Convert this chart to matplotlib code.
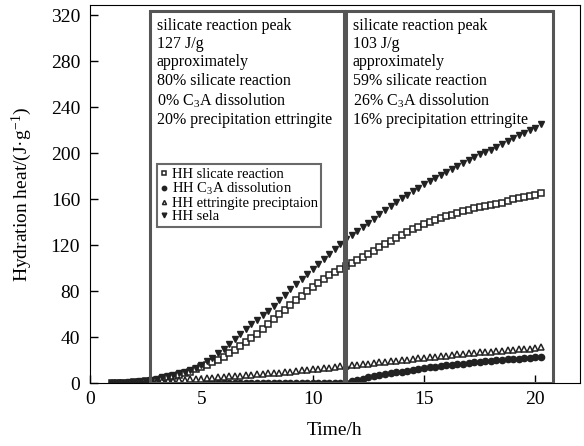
import numpy as np
import matplotlib
matplotlib.use("Agg")
import matplotlib.pyplot as plt
from matplotlib.patches import Rectangle

plt.rcParams["font.family"] = ["Liberation Serif", "DejaVu Serif"]
plt.rcParams["mathtext.fontset"] = "custom"
plt.rcParams["mathtext.rm"] = "Liberation Serif"
plt.rcParams["mathtext.it"] = "Liberation Serif:italic"

# time axis, h (every 0.25 h from 1 to 20.25)
t = np.arange(1.0, 20.26, 0.25)

silicate = [0, 0.1, 0.2, 0.4, 0.6, 1, 1.5, 2.2, 3, 4, 5, 6, 7, 8.5, 10, 12,
            14, 16, 18, 20.5, 23, 26, 29, 32.5, 36, 39.5, 43, 47, 51, 55.5, 60, 64,
            68, 72, 76, 80, 84, 87.5, 91, 94, 97, 99.5, 102, 104.5, 107, 109.5, 112, 115,
            118, 121, 124, 126.5, 129, 131.5, 134, 136, 138, 140, 142, 143.5, 145, 146.5,
            148, 149.5, 151, 152, 153, 154, 155, 156, 157, 158.5, 160, 161, 162, 163, 164, 165]

c3a = [0] * 42 + [0.5, 1.5, 3, 4, 5, 6, 7, 7.8, 8.5, 9.3, 10, 10.8, 11.5, 12.3,
                  13, 13.6, 14.2, 14.9, 15.5, 16, 16.5, 17, 17.5, 18, 18.5, 19, 19.5,
                  19.9, 20.2, 20.6, 21, 21.4, 21.8, 22.1, 22.5, 23]

ettringite = [0, 0.1, 0.2, 0.3, 0.5, 0.7, 1, 1.2, 1.5, 1.7, 2, 2.2, 2.5, 2.9, 3.2, 3.6,
              4, 4.4, 4.8, 5.1, 5.5, 5.9, 6.2, 6.6, 7, 7.4, 7.8, 8.1, 8.5, 8.9, 9.2, 9.6,
              10, 10.5, 11, 11.5, 12, 12.5, 13, 13.5, 14, 14.5, 15, 15.5, 16, 16.5, 17, 17.5,
              18, 18.5, 19, 19.5, 20, 20.5, 21, 21.5, 22, 22.5, 23, 23.5, 24, 24.5, 25, 25.5,
              26, 26.4, 26.8, 27.1, 27.5, 27.9, 28.2, 28.6, 29, 29.4, 29.8, 30.1, 30.5, 31]

sela = [0, 0.2, 0.4, 0.7, 1, 1.5, 2.2, 3, 4, 5, 6, 7, 8.5, 10, 11.5, 13.5,
        16, 19, 22, 26, 30, 34, 38.5, 42.5, 47, 51, 55, 59, 63, 67.5, 72, 77,
        82, 86.5, 91, 95, 99, 103.5, 108, 112.5, 117, 121, 125, 128.5, 132, 135.5, 139, 143,
        147, 150.5, 154, 157.5, 161, 164, 167, 170, 173, 175.5, 178, 181, 184, 186.5,
        189, 191.5, 194, 196.5, 199, 201, 203, 205.5, 208, 210.5, 213, 215.5, 218, 220, 222, 225]

boxes = [(2.7, 11.4), (11.5, 20.8)]
box_top = 324
box_texts = [
    "silicate reaction peak\n127 J/g\napproximately\n80% silicate reaction\n"
    "0% C$_3$A dissolution\n20% precipitation ettringite",
    "silicate reaction peak\n103 J/g\napproximately\n59% silicate reaction\n"
    "26% C$_3$A dissolution\n16% precipitation ettringite",
]

fig = plt.figure(figsize=(5.84, 4.46), dpi=100)
ax = fig.add_axes([0.154, 0.141, 0.839, 0.848])

ms = 4.2
ax.plot(t, silicate, ls="none", marker="s", ms=ms, mfc="white", mec="#222", mew=1.1,
        label="HH slicate reaction")
ax.plot(t, c3a, ls="none", marker="o", ms=ms + 0.3, color="#222", label="HH C$_3$A dissolution")
ax.plot(t, ettringite, ls="none", marker="^", ms=ms, mfc="white", mec="#222", mew=1.1,
        label="HH ettringite preciptaion")
ax.plot(t, sela, ls="none", marker="v", ms=ms + 0.6, color="#222", label="HH sela")

for (x0, x1), txt in zip(boxes, box_texts):
    ax.add_patch(Rectangle((x0, 0), x1 - x0, box_top, fill=False, ec="#555", lw=2.2, zorder=3))
    ax.text(x0 + 0.3, box_top - 6, txt, fontsize=11.5, va="top", ha="left", linespacing=1.2)

leg = ax.legend(loc="upper left", bbox_to_anchor=(0.137, 0.58), fontsize=10.5, frameon=True,
                fancybox=False, handlelength=0.5, handletextpad=0.25, labelspacing=0.0,
                borderpad=0.25, borderaxespad=0, markerscale=0.7)
leg.get_frame().set_edgecolor("#444")
leg.get_frame().set_linewidth(1.5)

ax.set_xlim(0, 22)
ax.set_ylim(0, 329)
ax.set_xticks([0, 5, 10, 15, 20])
ax.set_yticks(range(0, 321, 40))
ax.tick_params(direction="in", length=6, labelsize=14, width=1)
ax.tick_params(axis="y", pad=7)
ax.tick_params(axis="x", pad=6)
ax.set_xlabel("Time/h", fontsize=14, labelpad=10)
ax.set_ylabel("Hydration heat/(J·g$^{-1}$)", fontsize=14, labelpad=12)

fig.savefig("out.png", dpi=100)
